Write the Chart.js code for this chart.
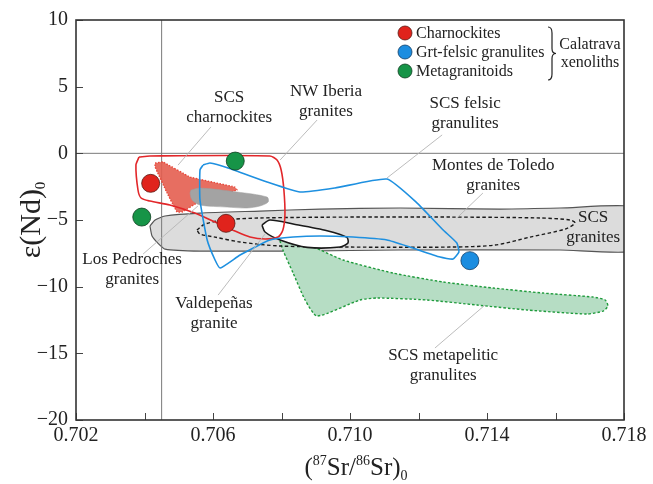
<!DOCTYPE html>
<html>
<head>
<meta charset="utf-8">
<script src="https://cdn.jsdelivr.net/npm/chart.js@4.4.1/dist/chart.umd.min.js"></script>
<style>
html, body { margin: 0; padding: 0; background: #fff; }
canvas { display: block; }
</style>
</head>
<body>
<canvas id="myChart" width="653" height="484"></canvas>
<script>
// Calatrava xenoliths, [(87Sr/86Sr)0, eNd(0)]
var charnockites = [[0.70418, -2.25], [0.70638, -5.25]];
var grtFelsicGranulites = [[0.71350, -8.05]];
var metagranitoids = [[0.70665, -0.58], [0.70392, -4.78]];

// literature fields (outlines)
var scsGranitesField = [[0.70416,-5.45],[0.70431,-5.0],[0.7046,-4.7],[0.70562,-4.48],[0.70737,-4.33],[0.70912,-4.18],
  [0.71146,-4.1],[0.71438,-4.18],[0.71613,-4.1],[0.7185,-4.1],[0.7185,-7.25],[0.71613,-7.25],[0.71146,-7.25],
  [0.70854,-7.33],[0.70562,-7.33],[0.7046,-7.18],[0.70439,-6.73],[0.70422,-6.2]];
var montesToledoField = [[0.70553,-5.75],[0.70577,-5.3],[0.70635,-5.0],[0.70737,-4.85],[0.710,-4.78],[0.71292,-4.78],
  [0.71555,-4.85],[0.71642,-5.0],[0.71657,-5.23],[0.71628,-5.68],[0.71526,-6.28],[0.71423,-6.88],[0.71292,-7.03],
  [0.710,-7.03],[0.70796,-6.95],[0.70679,-6.65],[0.70606,-6.28],[0.70562,-6.05]];
var valdepenasField = [[0.70743,-5.38],[0.70766,-5.0],[0.70834,-5.3],[0.70933,-5.8],[0.70991,-6.3],[0.70994,-6.73],
  [0.70971,-7.03],[0.70875,-7.05],[0.70796,-6.5],[0.70752,-5.9]];
var losPedrochesField = [[0.70536,-2.75],[0.70562,-2.6],[0.7067,-2.9],[0.70758,-3.28],[0.70761,-3.65],[0.70737,-3.95],
  [0.70699,-4.1],[0.70641,-4.03],[0.70562,-3.88],[0.70539,-3.5],[0.70533,-2.98]];
var scsCharnockitesField = [[0.70431,-0.73],[0.70454,-0.65],[0.70533,-1.78],[0.70664,-2.53],[0.7067,-2.75],
  [0.70553,-3.73],[0.7051,-4.4],[0.70495,-4.4],[0.70466,-2.98],[0.70431,-1.03]];
var nwIberiaField = [[0.70384,-0.28],[0.70416,-0.2],[0.70766,-0.2],[0.70787,-0.5],[0.70799,-1.25],[0.70807,-2.75],
  [0.7081,-4.63],[0.70804,-5.75],[0.7079,-6.28],[0.70752,-6.43],[0.70708,-6.28],[0.70664,-5.83],[0.70606,-5.15],
  [0.70547,-4.48],[0.70474,-3.88],[0.70416,-3.58],[0.7039,-3.35],[0.70381,-2.75],[0.70375,-0.88]];
var scsFelsicField = [[0.70571,-0.88],[0.70591,-0.73],[0.70644,-1.1],[0.70758,-2.15],[0.70854,-2.9],[0.70956,-2.6],
  [0.71108,-1.93],[0.71196,-3.73],[0.71272,-5.75],[0.71312,-6.73],[0.71318,-7.4],[0.71301,-7.93],[0.71263,-7.78],
  [0.71175,-7.03],[0.71108,-6.5],[0.71009,-6.28],[0.70912,-6.2],[0.70834,-6.28],[0.70766,-6.5],[0.70679,-7.63],
  [0.70621,-8.6],[0.70606,-8.0],[0.70583,-6.5],[0.70562,-3.5],[0.70562,-1.25]];
var scsMetapeliticField = [[0.70793,-6.35],[0.70825,-6.73],[0.70892,-7.03],[0.7098,-8.0],[0.71126,-8.98],[0.71272,-9.65],
  [0.71418,-10.1],[0.71564,-10.48],[0.7171,-10.78],[0.71745,-11.0],[0.71753,-11.45],[0.71739,-11.83],[0.71692,-12.05],
  [0.71517,-11.75],[0.71371,-11.38],[0.71225,-11.0],[0.71079,-10.85],[0.71029,-11.0],[0.70904,-12.2],[0.70869,-11.0],
  [0.70834,-8.98],[0.70804,-7.25]];

// reference lines: bulk earth Sr and CHUR
var bulkEarthSr = 0.7045;
var churNd = 0;

var xTicks = [0.702, 0.704, 0.706, 0.708, 0.710, 0.712, 0.714, 0.716, 0.718];
var yTicks = [10, 5, 0, -5, -10, -15, -20];

// field names with leader lines [from label, to field]
var fieldLabels = [
  { text: ['SCS', 'charnockites'], at: [0.70647, 3.4], leader: [[0.70594, 1.98], [0.70498, -0.88]] },
  { text: ['NW Iberia', 'granites'], at: [0.7093, 3.85], leader: [[0.70904, 2.5], [0.70796, -0.5]] },
  { text: ['SCS felsic', 'granulites'], at: [0.71336, 2.95], leader: [[0.71269, 1.38], [0.71108, -1.85]] },
  { text: ['Montes de Toledo', 'granites'], at: [0.71418, -1.63], leader: [[0.71388, -2.98], [0.71312, -4.85]] },
  { text: ['SCS', 'granites'], at: [0.7171, -5.6], leader: null },
  { text: ['Los Pedroches', 'granites'], at: [0.70364, -8.75], leader: [[0.70396, -7.55], [0.70556, -3.95]] },
  { text: ['Valdepeñas', 'granite'], at: [0.70603, -11.98], leader: [[0.70615, -10.63], [0.70752, -6.05]] },
  { text: ['SCS metapelitic', 'granulites'], at: [0.71272, -15.88], leader: [[0.71248, -14.6], [0.71394, -11.38]] }
];

var serif = "'Liberation Serif', 'Times New Roman', serif";

function pts(arr) {
  return arr.map(function(p) { return { x: p[0], y: p[1] }; });
}
function field(arr, opts) {
  var d = pts(arr);
  d.push(d[0]);
  var ds = {
    data: d, showLine: true, pointRadius: 0, borderWidth: 1.4, tension: 0.3,
    fill: false, borderColor: '#000', backgroundColor: 'transparent'
  };
  for (var k in opts) ds[k] = opts[k];
  return ds;
}

var datasets = [];
// points on top (order 0)
datasets.push({ data: pts(charnockites), backgroundColor: '#e0231c', borderColor: '#5a1a14', borderWidth: 0.8, pointRadius: 9, order: 0 });
datasets.push({ data: pts(grtFelsicGranulites), backgroundColor: '#1b8de0', borderColor: '#123d66', borderWidth: 0.8, pointRadius: 9, order: 0 });
datasets.push({ data: pts(metagranitoids), backgroundColor: '#169447', borderColor: '#0e3d20', borderWidth: 0.8, pointRadius: 9, order: 0 });

fieldLabels.forEach(function(l) {
  if (!l.leader) return;
  datasets.push({ data: pts(l.leader), showLine: true, pointRadius: 0, borderColor: '#b4b4b4', borderWidth: 0.9, order: 1 });
});

datasets.push(field(scsFelsicField, { borderColor: '#1e90e0', borderWidth: 1.6, tension: 0.15, order: 3 }));
datasets.push(field(nwIberiaField, { borderColor: '#e2272a', borderWidth: 1.6, tension: 0.25, order: 4 }));
datasets.push(field(losPedrochesField, { borderColor: '#9c9c9c', backgroundColor: '#a3a3a3', fill: 'shape', borderWidth: 0.5, order: 5 }));
datasets.push(field(scsCharnockitesField, { borderColor: '#e8483a', backgroundColor: 'rgba(228,94,80,0.9)', fill: 'shape', borderWidth: 1.4, borderDash: [1.5, 1.5], tension: 0.05, order: 6 }));
datasets.push(field(valdepenasField, { borderColor: '#1a1a1a', backgroundColor: '#ffffff', fill: 'shape', borderWidth: 1.6, tension: 0.25, order: 7 }));
datasets.push(field(montesToledoField, { borderColor: '#1a1a1a', borderWidth: 1.4, borderDash: [3.5, 2.5], order: 8 }));
datasets.push(field(scsMetapeliticField, { borderColor: '#1f9b3c', backgroundColor: '#b6ddc4', fill: 'shape', borderWidth: 1.4, borderDash: [2.5, 2], tension: 0.2, order: 9 }));
datasets.push({ data: [{ x: bulkEarthSr, y: -20 }, { x: bulkEarthSr, y: 10 }], showLine: true, pointRadius: 0, borderColor: '#7a7a7a', borderWidth: 1, order: 9.5 });
datasets.push({ data: [{ x: 0.702, y: churNd }, { x: 0.718, y: churNd }], showLine: true, pointRadius: 0, borderColor: '#7a7a7a', borderWidth: 1, order: 9.5 });
datasets.push(field(scsGranitesField, { borderColor: '#555555', backgroundColor: '#dcdcdc', fill: 'shape', borderWidth: 1.2, tension: 0.2, order: 10 }));

var legendItems = [
  { label: 'Charnockites', color: '#e0231c', edge: '#5a1a14' },
  { label: 'Grt-felsic granulites', color: '#1b8de0', edge: '#123d66' },
  { label: 'Metagranitoids', color: '#169447', edge: '#0e3d20' }
];

var decorations = {
  id: 'decorations',
  afterDatasetsDraw: function(chart) {
    var ctx = chart.ctx, a = chart.chartArea, xs = chart.scales.x, ys = chart.scales.y;
    ctx.save();

    // inner tick marks
    ctx.strokeStyle = '#444';
    ctx.lineWidth = 1;
    xTicks.forEach(function(v) {
      var px = Math.round(xs.getPixelForValue(v)) + 0.5;
      ctx.beginPath(); ctx.moveTo(px, a.bottom); ctx.lineTo(px, a.bottom - 7); ctx.stroke();
    });
    yTicks.forEach(function(v) {
      var py = Math.round(ys.getPixelForValue(v)) + 0.5;
      ctx.beginPath(); ctx.moveTo(a.left, py); ctx.lineTo(a.left + 7, py); ctx.stroke();
    });

    // frame
    ctx.strokeStyle = '#333';
    ctx.lineWidth = 1.6;
    ctx.strokeRect(a.left, a.top, a.right - a.left, a.bottom - a.top);

    // field labels
    ctx.fillStyle = '#222';
    ctx.font = '17px ' + serif;
    ctx.textAlign = 'center';
    ctx.textBaseline = 'middle';
    fieldLabels.forEach(function(l) {
      var cx = xs.getPixelForValue(l.at[0]), cy = ys.getPixelForValue(l.at[1]);
      var n = l.text.length;
      l.text.forEach(function(t, i) {
        ctx.fillText(t, cx, cy + (i - (n - 1) / 2) * 20);
      });
    });

    // legend
    var lx = a.right - 219, ly = a.top + 13;
    ctx.font = '16px ' + serif;
    ctx.textAlign = 'left';
    legendItems.forEach(function(it, i) {
      var y = ly + i * 19;
      ctx.beginPath();
      ctx.arc(lx, y, 7, 0, Math.PI * 2);
      ctx.fillStyle = it.color; ctx.fill();
      ctx.strokeStyle = it.edge; ctx.lineWidth = 0.8; ctx.stroke();
      ctx.fillStyle = '#222';
      ctx.fillText(it.label, lx + 11, y + 1);
    });
    // brace
    var bx = a.right - 76, top = a.top + 7, bot = a.top + 60, mid = (top + bot) / 2;
    ctx.strokeStyle = '#222'; ctx.lineWidth = 1.2;
    ctx.beginPath();
    ctx.moveTo(bx, top);
    ctx.quadraticCurveTo(bx + 4, top, bx + 4, top + 6);
    ctx.lineTo(bx + 4, mid - 5);
    ctx.quadraticCurveTo(bx + 4, mid, bx + 8, mid);
    ctx.quadraticCurveTo(bx + 4, mid, bx + 4, mid + 5);
    ctx.lineTo(bx + 4, bot - 6);
    ctx.quadraticCurveTo(bx + 4, bot, bx, bot);
    ctx.stroke();
    ctx.fillStyle = '#222';
    ctx.textAlign = 'center';
    ctx.fillText('Calatrava', a.right - 34, a.top + 25);
    ctx.fillText('xenoliths', a.right - 34, a.top + 43);

    // y title: eps(Nd)0
    ctx.save();
    ctx.translate(30, (a.top + a.bottom) / 2);
    ctx.rotate(-Math.PI / 2);
    ctx.textAlign = 'left';
    ctx.textBaseline = 'alphabetic';
    ctx.font = '30px ' + serif;
    var t1 = 'ε(Nd)';
    var w1 = ctx.measureText(t1).width;
    ctx.font = '15px ' + serif;
    var w0 = ctx.measureText('0').width;
    var sx = -(w1 + w0) / 2;
    ctx.font = '30px ' + serif;
    ctx.fillText(t1, sx, 10);
    ctx.font = '15px ' + serif;
    ctx.fillText('0', sx + w1, 15);
    ctx.restore();

    // x title: (87Sr/86Sr)0
    var parts = [['(', 25, 0], ['87', 14, -10], ['Sr/', 25, 0], ['86', 14, -10], ['Sr)', 25, 0], ['0', 14, 5]];
    ctx.textAlign = 'left';
    ctx.textBaseline = 'alphabetic';
    var total = 0;
    parts.forEach(function(p) { ctx.font = p[1] + 'px ' + serif; total += ctx.measureText(p[0]).width; });
    var x = (a.left + a.right) / 2 + 6 - total / 2, base = 475;
    parts.forEach(function(p) {
      ctx.font = p[1] + 'px ' + serif;
      ctx.fillText(p[0], x, base + p[2]);
      x += ctx.measureText(p[0]).width;
    });

    ctx.restore();
  }
};

function fixSize(w, h) {
  return function(scale) {
    if (w) scale.width = w;
    if (h) scale.height = h;
  };
}

var ctx = document.getElementById('myChart').getContext('2d');
var myChart = new Chart(ctx, {
  type: 'scatter',
  data: { datasets: datasets },
  options: {
    responsive: false,
    animation: false,
    devicePixelRatio: 1,
    layout: { padding: { top: 20, right: 29, left: 0, bottom: 0 } },
    plugins: { legend: { display: false }, tooltip: { enabled: false } },
    scales: {
      x: {
        type: 'linear', min: 0.702, max: 0.718,
        afterFit: fixSize(0, 64),
        border: { display: false },
        grid: { display: false, drawTicks: false },
        afterBuildTicks: function(scale) { scale.ticks = xTicks.map(function(v) { return { value: v }; }); },
        ticks: {
          autoSkip: false, maxRotation: 0, padding: 4, color: '#222',
          font: { family: serif, size: 20 },
          callback: function(v) {
            var m = Math.round(v * 1000);
            return (m % 4 === 2) ? (m / 1000).toFixed(3) : '';
          }
        }
      },
      y: {
        type: 'linear', min: -20, max: 10,
        afterFit: fixSize(76, 0),
        border: { display: false },
        grid: { display: false, drawTicks: false },
        afterBuildTicks: function(scale) { scale.ticks = yTicks.map(function(v) { return { value: v }; }); },
        ticks: {
          padding: 8, color: '#222',
          font: { family: serif, size: 20 },
          callback: function(v) { return String(v).replace('-', '\u2212'); }
        }
      }
    }
  },
  plugins: [decorations]
});
</script>
</body>
</html>
